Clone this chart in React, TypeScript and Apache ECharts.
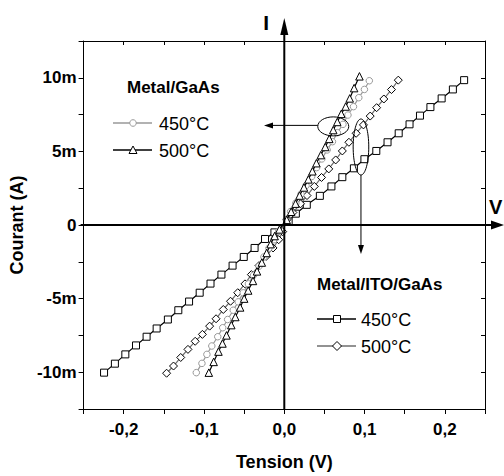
import React, { useEffect, useRef } from 'react';
import * as echarts from 'echarts';

const FONT = '"Liberation Sans", Arial, Helvetica, sans-serif';

// Metal/ITO/GaAs 450°C (squares) — Tension (V), Courant (mA)
const ito450V = [-0.2245, -0.211, -0.198, -0.1847, -0.1715, -0.159, -0.145, -0.132, -0.1186, -0.1054, -0.0919, -0.0783, -0.0644, -0.0505, -0.037, -0.024, -0.0123,
  0.0054, 0.0144, 0.028, 0.0443, 0.0587, 0.0723, 0.0867, 0.0998, 0.1146, 0.1286, 0.1425, 0.156, 0.169, 0.182, 0.196, 0.21, 0.224];
const ito450I = [-10.03, -9.42, -8.79, -8.18, -7.59, -7.03, -6.42, -5.79, -5.2, -4.6, -3.98, -3.37, -2.76, -2.17, -1.56, -0.95, -0.5,
  0.24, 0.77, 1.37, 1.98, 2.62, 3.25, 3.85, 4.47, 5.03, 5.62, 6.23, 6.84, 7.43, 8.01, 8.6, 9.21, 9.84];

// Metal/ITO/GaAs 500°C (diamonds)
const ito500V = [-0.1466, -0.138, -0.129, -0.12, -0.111, -0.102, -0.093, -0.085, -0.076, -0.067, -0.058, -0.049, -0.041, -0.0315, -0.0225, -0.014, -0.007, -0.002,
  0.0033, 0.0107, 0.0202, 0.0283, 0.0374, 0.0464, 0.0554, 0.064, 0.0723, 0.0805, 0.0895, 0.0986, 0.107, 0.115, 0.124, 0.1335, 0.142];
const ito500I = [-10.07, -9.58, -9.0, -8.45, -7.9, -7.43, -6.87, -6.37, -5.74, -5.18, -4.6, -4.0, -3.37, -2.76, -2.13, -1.56, -1.0, -0.45,
  0.36, 0.85, 1.44, 2.0, 2.62, 3.23, 3.81, 4.42, 5.03, 5.62, 6.23, 6.8, 7.4, 7.97, 8.56, 9.2, 9.84];

// Metal/GaAs 450°C (circles)
const gaas450V = [-0.1096, -0.1026, -0.0964, -0.0903, -0.0829, -0.0767, -0.0706, -0.0636, -0.0574, -0.0512, -0.0447, -0.0382, -0.0315, -0.0254, -0.0192, -0.013, -0.0069,
  0.0025, 0.0079, 0.0144, 0.0209, 0.0271, 0.0341, 0.0403, 0.0468, 0.0534, 0.06, 0.0661, 0.0731, 0.0793, 0.0862, 0.0928, 0.0998, 0.1059];
const gaas450I = [-10.03, -9.4, -8.79, -8.22, -7.59, -6.98, -6.42, -5.79, -5.22, -4.61, -4.0, -3.41, -2.8, -2.17, -1.58, -1.0, -0.43,
  0.36, 0.92, 1.49, 2.1, 2.68, 3.29, 3.9, 4.49, 5.1, 5.66, 6.27, 6.84, 7.47, 8.04, 8.65, 9.21, 9.8];

// Metal/GaAs 500°C (triangles)
const gaas500V = [-0.094, -0.088, -0.082, -0.077, -0.072, -0.066, -0.061, -0.055, -0.05, -0.045, -0.039, -0.034, -0.028, -0.022, -0.017, -0.012, -0.006,
  0.003, 0.0085, 0.014, 0.019, 0.0245, 0.03, 0.035, 0.04, 0.0455, 0.051, 0.056, 0.061, 0.066, 0.071, 0.0765, 0.0815, 0.087, 0.0936];
const gaas500I = [-10.03, -9.3, -8.6, -8.05, -7.5, -6.8, -6.25, -5.6, -5.0, -4.45, -3.8, -3.15, -2.55, -1.9, -1.3, -0.75, -0.3,
  0.35, 0.9, 1.45, 2.0, 2.55, 3.1, 3.65, 4.2, 4.75, 5.3, 5.85, 6.45, 7.0, 7.55, 8.05, 8.6, 9.3, 10.1];

const groupTitles = ['Metal/GaAs', 'Metal/ITO/GaAs'];
const tempLabels = ['450°C', '500°C'];

const zip = (a: number[], b: number[]) => a.map((v, i) => [v, b[i]]);

const GRAY = '#999999';
const DGRAY = '#6e6e6e';

export default function App() {
  const ref = useRef<HTMLDivElement>(null);
  useEffect(() => {
    if (!ref.current) return;
    const chart = echarts.init(ref.current, null, { renderer: 'svg' });
    const tickLabel = { fontFamily: FONT, fontWeight: 'bold' as const, fontSize: 17, color: '#000' };
    const lineAxis = { lineStyle: { color: '#000', width: 1 } };
    const option: any = {
      animation: false,
      backgroundColor: '#fff',
      grid: { left: 79, right: 19, top: 41, bottom: 67 },
      xAxis: [
        {
          type: 'value', min: -0.25, max: 0.25, interval: 0.05, position: 'bottom',
          axisLine: { show: true, onZero: false, ...lineAxis },
          axisTick: { show: true, inside: false, length: 5, lineStyle: { color: '#000' } },
          splitLine: { show: false },
          axisLabel: {
            ...tickLabel, margin: 12,
            formatter: (v: number) => {
              const r = Math.round(v * 100);
              if (r % 10 !== 0) return '';
              return (r / 100).toFixed(1).replace('.', ',');
            },
          },
          name: 'Tension (V)', nameLocation: 'middle', nameGap: 44,
          nameTextStyle: { fontFamily: FONT, fontWeight: 'bold', fontSize: 18, color: '#000' },
        },
        {
          type: 'value', min: -0.25, max: 0.25, interval: 0.05, position: 'top',
          axisLine: { show: true, onZero: false, ...lineAxis },
          axisTick: { show: true, inside: true, length: 4, lineStyle: { color: '#000' } },
          splitLine: { show: false }, axisLabel: { show: false },
        },
      ],
      yAxis: [
        {
          type: 'value', min: -12.5, max: 12.5, interval: 2.5, position: 'left',
          axisLine: { show: true, onZero: false, ...lineAxis },
          axisTick: { show: true, inside: false, length: 5, lineStyle: { color: '#000' } },
          splitLine: { show: false },
          axisLabel: {
            ...tickLabel, margin: 7,
            formatter: (v: number) => {
              const r = Math.round(v * 10);
              if (r % 50 !== 0) return '';
              if (r === 0) return '0';
              return r / 10 + 'm';
            },
          },
          name: 'Courant (A)', nameLocation: 'middle', nameGap: 45,
          nameTextStyle: { fontFamily: FONT, fontWeight: 'bold', fontSize: 18, color: '#000' },
        },
        {
          type: 'value', min: -12.5, max: 12.5, interval: 2.5, position: 'right',
          axisLine: { show: true, onZero: false, ...lineAxis },
          axisTick: { show: true, inside: true, length: 4, lineStyle: { color: '#000' } },
          splitLine: { show: false }, axisLabel: { show: false },
        },
      ],
      series: [
        {
          type: 'line', name: 'ITO 450', data: zip(ito450V, ito450I), symbol: 'rect', symbolSize: 7,
          lineStyle: { color: '#000', width: 1.2 }, itemStyle: { color: '#fff', borderColor: '#000', borderWidth: 1 }, z: 2,
        },
        {
          type: 'line', name: 'ITO 500', data: zip(ito500V, ito500I), symbol: 'diamond', symbolSize: 8,
          lineStyle: { color: DGRAY, width: 1.2 }, itemStyle: { color: '#fff', borderColor: '#000', borderWidth: 1 }, z: 3,
        },
        {
          type: 'line', name: 'GaAs 450', data: zip(gaas450V, gaas450I), symbol: 'circle', symbolSize: 6.5,
          lineStyle: { color: GRAY, width: 1.2 }, itemStyle: { color: '#fff', borderColor: GRAY, borderWidth: 1 }, z: 4,
        },
        {
          type: 'line', name: 'GaAs 500', data: zip(gaas500V, gaas500I), symbol: 'triangle', symbolSize: 7.5,
          lineStyle: { color: '#000', width: 1.2 }, itemStyle: { color: '#fff', borderColor: '#000', borderWidth: 1 }, z: 5,
        },
      ],
    };
    chart.setOption(option);

    const p = (x: number, y: number) => chart.convertToPixel({ gridIndex: 0 }, [x, y]) as number[];
    const [x0, y0] = p(0, 0);
    const [, yBottom] = p(0, -12.5);
    const [xLeft] = p(-0.25, 0);

    const legendLine = (x1: number, x2: number, y: number, color: string) => ({
      type: 'line', shape: { x1, y1: y, x2, y2: y }, style: { stroke: color, lineWidth: 1.4 }, z: 100,
    });
    const txt = (text: string, x: number, y: number, size: number, bold: boolean, align = 'left') => ({
      type: 'text', x, y, z: 100,
      style: { text, fontFamily: FONT, fontSize: size, fontWeight: bold ? 'bold' : 'normal', fill: '#000', align, verticalAlign: 'middle' },
    });

    const e1 = p(0.061, 6.7);
    const e2 = p(0.0955, 5.3);

    const graphic: any[] = [
      // zero axes with arrows
      { type: 'line', shape: { x1: x0, y1: 30, x2: x0, y2: yBottom }, style: { stroke: '#000', lineWidth: 2 }, z: 90 },
      { type: 'polygon', shape: { points: [[x0, 18], [x0 - 4, 35], [x0 + 4, 35]] }, style: { fill: '#000' }, z: 90 },
      { type: 'line', shape: { x1: xLeft - 3, y1: y0, x2: 494, y2: y0 }, style: { stroke: '#000', lineWidth: 2 }, z: 90 },
      { type: 'polygon', shape: { points: [[504, y0], [491, y0 - 4.5], [491, y0 + 4.5]] }, style: { fill: '#000' }, z: 90 },
      txt('I', x0 - 18, 22, 21, true, 'center'),
      txt('V', 489, 207, 20, true, 'left'),
      // legend Metal/GaAs
      txt(groupTitles[0], 127, 87, 17, true),
      legendLine(113, 152, 123, GRAY),
      { type: 'circle', shape: { cx: 133, cy: 123, r: 3.3 }, style: { fill: '#fff', stroke: GRAY, lineWidth: 1 }, z: 101 },
      txt(tempLabels[0], 159, 124, 18, false),
      legendLine(113, 152, 150, '#000'),
      { type: 'polygon', shape: { points: [[133, 146], [129, 153.5], [137, 153.5]] }, style: { fill: '#fff', stroke: '#000', lineWidth: 1 }, z: 101 },
      txt(tempLabels[1], 159, 151, 18, false),
      // legend Metal/ITO/GaAs
      txt(groupTitles[1], 317, 284, 17, true),
      legendLine(317, 356, 319, '#000'),
      { type: 'rect', shape: { x: 333.5, y: 315.5, width: 7, height: 7 }, style: { fill: '#fff', stroke: '#000', lineWidth: 1 }, z: 101 },
      txt(tempLabels[0], 361, 320, 18, false),
      legendLine(317, 356, 346, DGRAY),
      { type: 'polygon', shape: { points: [[337, 341.5], [341.5, 346], [337, 350.5], [332.5, 346]] }, style: { fill: '#fff', stroke: '#000', lineWidth: 1 }, z: 101 },
      txt(tempLabels[1], 361, 347, 18, false),
      // annotation ellipses and arrows
      { type: 'ellipse', shape: { cx: e1[0], cy: e1[1], rx: 15.5, ry: 9.5 }, style: { fill: 'none', stroke: '#000', lineWidth: 1 }, z: 95 },
      { type: 'line', shape: { x1: e1[0] - 15.5, y1: e1[1] - 1, x2: 272, y2: e1[1] - 1 }, style: { stroke: '#000', lineWidth: 1 }, z: 95 },
      { type: 'polygon', shape: { points: [[264, e1[1] - 1], [273, e1[1] - 4], [273, e1[1] + 2]] }, style: { fill: '#000' }, z: 95 },
      { type: 'ellipse', shape: { cx: e2[0], cy: e2[1], rx: 7.8, ry: 28 }, style: { fill: 'none', stroke: '#000', lineWidth: 1 }, z: 95 },
      { type: 'line', shape: { x1: e2[0], y1: e2[1] + 28, x2: e2[0], y2: 246 }, style: { stroke: '#000', lineWidth: 1 }, z: 95 },
      { type: 'polygon', shape: { points: [[e2[0], 254], [e2[0] - 3, 245], [e2[0] + 3, 245]] }, style: { fill: '#000' }, z: 95 },
    ];
    chart.setOption({ graphic });

    return () => chart.dispose();
  }, []);
  return <div ref={ref} style={{ position: 'fixed', left: 0, top: 0, width: 504, height: 476, background: '#fff' }} />;
}
